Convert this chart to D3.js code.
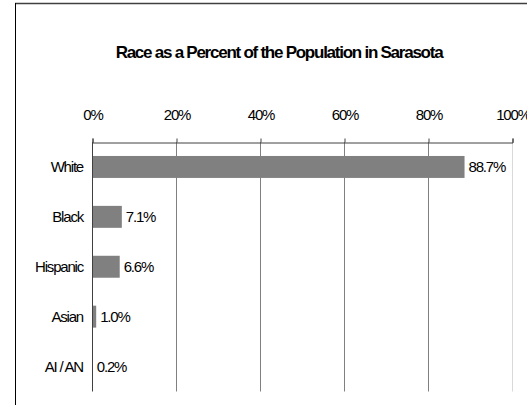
<!DOCTYPE html>
<html><head><meta charset="utf-8">
<script src="https://cdn.jsdelivr.net/npm/d3@7"></script>
<style>body{margin:0;background:#fff}svg{display:block}text{font-family:"Liberation Sans",Arial,sans-serif}</style>
</head><body><svg id="c" width="527" height="405"></svg>
<script>
const categories = ["White", "Black", "Hispanic", "Asian", "AI / AN"];
const values = [88.7, 7.1, 6.6, 1.0, 0.2];
const valueLabels = ["88.7%", "7.1%", "6.6%", "1.0%", "0.2%"];
const tickValues = [0, 20, 40, 60, 80, 100];
const title = "Race as a Percent of the Population in Sarasota";

const svg = d3.select("#c");
const W = 527, H = 405;
svg.append("rect").attr("width", W).attr("height", H).attr("fill", "#fff");
// frame
svg.append("line").attr("x1", 15).attr("x2", W + 2).attr("y1", 3.5).attr("y2", 3.5).attr("stroke", "#404040").attr("stroke-width", 1.6);
svg.append("line").attr("x1", 15.5).attr("x2", 15.5).attr("y1", 3).attr("y2", H).attr("stroke", "#000").attr("stroke-width", 1);

const x = d3.scaleLinear().domain([0, 100]).range([92, 512]);
const y = d3.scaleBand().domain(categories).range([142, 391.5]).paddingInner(0.56).paddingOuter(0.28);

svg.append("text").attr("x", 279).attr("y", 57.5).attr("text-anchor", "middle")
  .attr("font-size", 17).attr("font-weight", "bold").attr("letter-spacing", -1.25).attr("fill", "#000").text(title);

// gridlines
svg.append("g").selectAll("line").data(tickValues).join("line")
  .attr("x1", d => Math.round(x(d)) + 0.5).attr("x2", d => Math.round(x(d)) + 0.5)
  .attr("y1", 142).attr("y2", 391.5)
  .attr("stroke", d => d === 100 ? "#d9d9d9" : (d === 0 ? "#404040" : "#808080")).attr("stroke-width", 1);

// top axis
const axis = d3.axisTop(x).tickValues(tickValues).tickFormat(d => d + "%").tickSize(4).tickPadding(19);
const ag = svg.append("g").attr("transform", "translate(0.5,142.5)").call(axis);
ag.select(".domain").attr("stroke", "#404040");
ag.selectAll(".tick line").attr("stroke", "#404040");
ag.selectAll(".tick text").attr("font-size", 15).attr("letter-spacing", -1.2).attr("fill", "#000")
  .attr("font-family", "Liberation Sans, Arial, sans-serif");

// bars
svg.append("g").selectAll("rect").data(values).join("rect")
  .attr("x", x(0) + 1).attr("y", (d, i) => y(categories[i]))
  .attr("width", d => Math.max(0, x(d) - x(0) - 1)).attr("height", y.bandwidth())
  .attr("fill", "#808080");

// category labels
svg.append("g").selectAll("text").data(categories).join("text")
  .attr("x", 83).attr("y", d => y(d) + y.bandwidth() / 2 + 5.5)
  .attr("text-anchor", "end").attr("font-size", 15).attr("letter-spacing", -1.2).attr("fill", "#000").text(d => d);

// value labels
svg.append("g").selectAll("text").data(values).join("text")
  .attr("x", d => x(d) + 4).attr("y", (d, i) => y(categories[i]) + y.bandwidth() / 2 + 5.5)
  .attr("font-size", 15).attr("letter-spacing", -1.2).attr("fill", "#000").text((d, i) => valueLabels[i]);
</script></body></html>
